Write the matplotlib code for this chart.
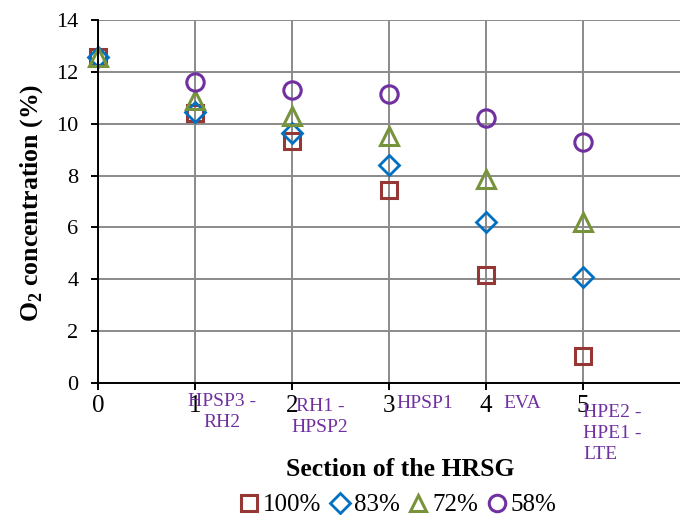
import matplotlib
matplotlib.use('Agg')
import matplotlib.pyplot as plt
import numpy as np

# O2 concentration (%) per HRSG section, for four loads
sections = [0, 1, 2, 3, 4, 5]
o2_100 = [12.57, 10.41, 9.35, 7.45, 4.17, 1.04]
o2_83 = [12.57, 10.46, 9.64, 8.40, 6.22, 4.10]
o2_72 = [12.58, 10.91, 10.30, 9.52, 7.85, 6.22]
o2_58 = [np.nan, 11.60, 11.30, 11.15, 10.21, 9.28]
series_labels = ['100%', '83%', '72%', '58%']
section_names = ['HPSP3 -\nRH2', 'RH1 -\nHPSP2', 'HPSP1', 'EVA', 'HPE2 -\nHPE1 -\nLTE']

COLORS = ['#953735', '#0070C0', '#77933C', '#7030A0']
MARKERS = ['s', 'D', '^', 'o']
SIZES = [12.0, 10.5, 12.5, 12.5]
EDGES = [2.2, 2.0, 2.2, 2.2]

SERIF = ['Liberation Serif', 'DejaVu Serif']


def main():
    plt.rcParams['font.family'] = SERIF
    plt.rcParams['mathtext.fontset'] = 'custom'
    plt.rcParams['mathtext.rm'] = 'Liberation Serif'
    plt.rcParams['mathtext.bf'] = 'Liberation Serif:bold'
    fig = plt.figure(figsize=(6.8, 5.15), dpi=100)
    ax = fig.add_axes([98 / 680., 1 - 383 / 515., 1 - 98 / 680., (383 - 20) / 515.])

    allSeries = [o2_100, o2_83, o2_72, o2_58]
    for i in range(len(allSeries)):
        ax.plot(sections, allSeries[i], ls='none', marker=MARKERS[i], ms=SIZES[i],
                mfc='none', mec=COLORS[i], mew=EDGES[i],
                label=series_labels[i], zorder=3, clip_on=False)

    ax.set_xlim(0, 6)
    ax.set_ylim(0, 14)
    ax.set_xticks(sections)
    ax.set_yticks(np.arange(0, 15, 2))
    ax.grid(color='#8a8a8a', lw=1.4)
    ax.set_axisbelow(True)
    for s in ['top', 'right']:
        ax.spines[s].set_visible(False)
    for s in ['left', 'bottom']:
        ax.spines[s].set_linewidth(1.4)
        ax.spines[s].set_zorder(4)
    ax.tick_params(axis='y', direction='out', length=5, width=1.4, labelsize=16, pad=9)
    ax.tick_params(axis='x', direction='out', length=5, width=1.4, labelsize=18, pad=4)

    # section names written under the axis, next to each tick
    offsets = [(0.28, -7), (0.29, -11), (0.37, -9), (0.37, -9), (0.005, -15)]
    for k in range(len(section_names)):
        ha = 'left' if k == len(section_names) - 1 else 'center'
        dx, dy = offsets[k]
        ax.annotate(section_names[k], xy=(sections[k + 1] + dx, 0),
                    xycoords=('data', 'axes fraction'), xytext=(0, dy),
                    textcoords='offset points', ha=ha, va='top',
                    multialignment=ha, color='#7030A0', fontsize=14,
                    linespacing=1.3)

    ax.set_xlabel('Section of the HRSG', fontsize=18.5, fontweight='bold')
    ax.xaxis.set_label_coords((400 - 98) / 582., (383 - 470) / 363.)
    ax.xaxis.label.set_va('center')
    ax.set_ylabel('O$_\\mathbf{2}$ concentration (%)', fontsize=18.5, fontweight='bold')
    ax.yaxis.set_label_coords((32 - 98) / 582., (383 - 203) / 363.)
    ax.yaxis.label.set_va('center')

    fig.legend(loc='center', bbox_to_anchor=(397 / 680., 1 - 505 / 515.), ncol=4,
               frameon=False, fontsize=18, handletextpad=0.1, columnspacing=0.3,
               handlelength=0.9, markerscale=0.95, borderaxespad=0, borderpad=0)

    fig.savefig('out.png', dpi=100)


if __name__ == '__main__':
    main()
